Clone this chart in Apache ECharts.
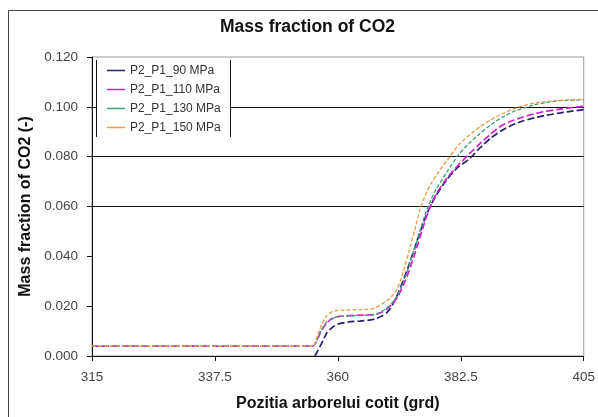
<!DOCTYPE html>
<html>
<head>
<meta charset="utf-8">
<script src="https://cdn.jsdelivr.net/npm/echarts@6/dist/echarts.min.js"></script>
<style>
  html, body { margin: 0; padding: 0; background: #fff; }
  #chart { width: 598px; height: 417px; }
</style>
</head>
<body>
<div id="chart"></div>
<script>
// crank angle (grd)
const angles = [315, 355.5, 356, 357, 358, 359, 360, 362, 364, 366, 367, 368, 369, 370, 371, 372, 373, 374, 375, 376, 377, 378, 380, 382, 384, 386, 388, 390, 392, 394, 396, 398, 400, 402, 405];
const angles90 = [355.8, 357, 358, 359, 360, 362, 364, 366, 367, 368, 369, 370, 371, 372, 373, 374, 375, 376, 377, 378, 380, 382, 384, 386, 388, 390, 392, 394, 396, 398, 400, 402, 405];

// mass fraction of CO2 (-)
const p90 = [0, 0.005, 0.0093, 0.0115, 0.0128, 0.0137, 0.014, 0.0145, 0.015, 0.016, 0.0175, 0.0205, 0.025, 0.0305, 0.0365, 0.043, 0.0495, 0.0555, 0.0605, 0.0645, 0.071, 0.0758, 0.079, 0.0835, 0.0875, 0.0905, 0.0928, 0.0944, 0.0956, 0.0966, 0.0973, 0.098, 0.0989];
const p110 = [0.004, 0.004, 0.0055, 0.0102, 0.0134, 0.015, 0.0158, 0.0162, 0.0164, 0.0165, 0.0168, 0.0176, 0.019, 0.021, 0.024, 0.0285, 0.034, 0.0405, 0.0475, 0.0545, 0.0605, 0.065, 0.0715, 0.0765, 0.081, 0.0852, 0.0892, 0.0925, 0.0945, 0.096, 0.0972, 0.0982, 0.0989, 0.0995, 0.1002];
const p130 = [0.004, 0.004, 0.0055, 0.0105, 0.0138, 0.0152, 0.0158, 0.0161, 0.0162, 0.0164, 0.0168, 0.0178, 0.0193, 0.0215, 0.0248, 0.0298, 0.036, 0.043, 0.05, 0.057, 0.0625, 0.067, 0.074, 0.0805, 0.0853, 0.0893, 0.0928, 0.0957, 0.098, 0.0995, 0.1008, 0.1017, 0.1023, 0.1026, 0.1028];
const p150 = [0.004, 0.004, 0.0065, 0.0125, 0.0163, 0.0178, 0.0183, 0.0185, 0.0186, 0.0188, 0.0195, 0.0208, 0.0222, 0.0243, 0.0275, 0.034, 0.042, 0.05, 0.0585, 0.0645, 0.069, 0.0725, 0.0785, 0.0845, 0.0885, 0.092, 0.0948, 0.0972, 0.0991, 0.1005, 0.1015, 0.1021, 0.1025, 0.1028, 0.103];

const seriesNames = ['P2_P1_90 MPa', 'P2_P1_110 MPa', 'P2_P1_130 MPa', 'P2_P1_150 MPa'];
const seriesColors = ['#22226e', '#d21ed2', '#3f9f72', '#eb9a45'];
const gridValues = [0.06, 0.08, 0.10];

const font = '"Liberation Sans", Arial, sans-serif';
const dashes = [[7, 3], [7, 3], [4, 2], [4, 2]];
const widths = [1.7, 1.7, 1.3, 1.3];

const zip = (xs, ys) => xs.map((x, i) => [x, ys[i]]);
const seriesData = [zip(angles90, p90), zip(angles, p110), zip(angles, p130), zip(angles, p150)];

const series = seriesNames.map((name, i) => ({
    name: name,
    type: 'line',
    data: seriesData[i],
    symbol: 'none',
    smooth: 0.2,
    z: 3 + i,
    lineStyle: { color: seriesColors[i], width: widths[i], type: dashes[i] },
    itemStyle: { color: seriesColors[i] },
}));

// horizontal grid lines (only a few drawn in the original)
series[0].markLine = {
    silent: true,
    symbol: 'none',
    label: { show: false },
    lineStyle: { color: '#111', type: 'solid', width: 1 },
    data: gridValues.map(v => ({ yAxis: v })),
    z: 1,
};

const chart = echarts.init(document.getElementById('chart'));
chart.setOption({
    animation: false,
    title: {
        text: 'Mass fraction of CO2',
        left: 215,
        top: 13,
        textStyle: { fontFamily: font, fontSize: 17.5, fontWeight: 'bold', color: '#111' },
    },
    legend: {
        orient: 'vertical',
        left: 107,
        top: 64,
        padding: 0,
        icon: 'rect',
        itemWidth: 18,
        itemHeight: 1.5,
        itemGap: 6,
        z: 12,
        textStyle: { fontFamily: font, fontSize: 12, lineHeight: 13, color: '#333' },
        data: seriesNames,
    },
    graphic: [
        { type: 'rect', z: 11, shape: { x: 96, y: 60, width: 134, height: 77 }, style: { fill: '#fff', stroke: null } },
        { type: 'line', z: 11, shape: { x1: 96.5, y1: 60, x2: 96.5, y2: 137 }, style: { stroke: '#111', lineWidth: 1 } },
        { type: 'line', z: 11, shape: { x1: 230.5, y1: 60, x2: 230.5, y2: 137 }, style: { stroke: '#111', lineWidth: 1 } },
        { type: 'rect', z: 0, shape: { x: 8.5, y: 10.5, width: 600, height: 420 }, style: { fill: null, stroke: '#444', lineWidth: 1 } },
    ],
    grid: {
        left: 92,
        right: 14,
        top: 57,
        bottom: 57,
        show: true,
        borderColor: '#999',
        borderWidth: 1,
    },
    xAxis: {
        type: 'value',
        min: 315,
        max: 405,
        interval: 22.5,
        name: 'Pozitia arborelui cotit (grd)',
        nameLocation: 'middle',
        nameGap: 40,
        nameTextStyle: { fontFamily: font, fontSize: 16, fontWeight: 'bold', color: '#111' },
        axisLine: { lineStyle: { color: '#111', width: 1 } },
        axisTick: { length: 5, lineStyle: { color: '#111' } },
        axisLabel: { margin: 14, fontFamily: font, fontSize: 13.5, color: '#444' },
        splitLine: { show: false },
    },
    yAxis: {
        type: 'value',
        min: 0,
        max: 0.12,
        interval: 0.02,
        name: 'Mass fraction of CO2 (-)',
        nameLocation: 'middle',
        nameGap: 53,
        nameTextStyle: { fontFamily: font, fontSize: 16, fontWeight: 'bold', color: '#111' },
        axisLine: { show: true, lineStyle: { color: '#111', width: 1 } },
        axisTick: { show: true, length: 5, lineStyle: { color: '#111' } },
        axisLabel: { margin: 14, fontFamily: font, fontSize: 13.5, color: '#444', formatter: v => v.toFixed(3) },
        splitLine: { show: false },
    },
    series: series,
});
</script>
</body>
</html>
